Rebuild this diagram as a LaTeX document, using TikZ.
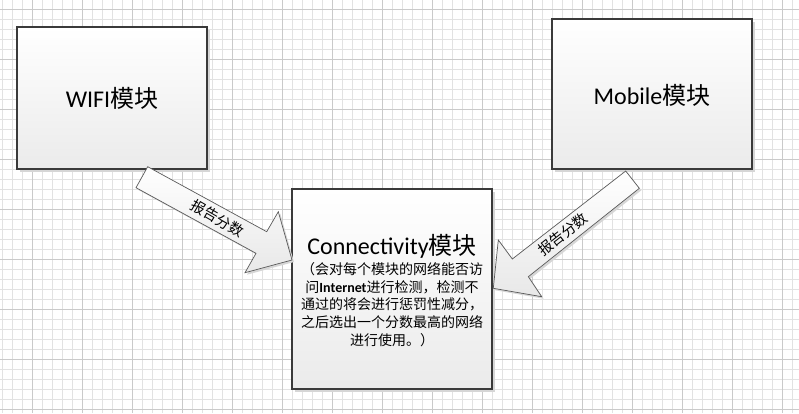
\documentclass[tikz,border=0pt]{standalone}
\usepackage{fontspec}
\setmainfont{Carlito}
\newfontfamily\cjk{Noto Sans CJK SC}
\usetikzlibrary{shadows}
\definecolor{gridminor}{HTML}{E2E2E2}
\definecolor{gridmajor}{HTML}{CACACA}
\definecolor{boxline}{HTML}{3A3A3A}
\definecolor{arrowline}{HTML}{5A5A5A}
\definecolor{shadowc}{HTML}{D6D6D6}
\begin{document}
\begin{tikzpicture}[x=1pt,y=-1pt,
  module/.style={draw=boxline, line width=1.1pt, top color=white, bottom color=black!8,
    drop shadow={shadow xshift=3pt, shadow yshift=-3pt, fill=shadowc, opacity=1},
    inner sep=0pt},
  blockarrow/.style={draw=arrowline, line width=0.7pt, top color=white, bottom color=black!9},
  arrowshadow/.style={fill=shadowc},
  big/.style={font=\fontsize{24}{28}\selectfont, inner sep=0pt},
  lbl/.style={font=\fontsize{14.5}{16}\selectfont\cjk, inner sep=0pt},
  body/.style={font=\fontsize{14}{17.7}\selectfont, align=center, inner sep=0pt}]
\useasboundingbox (0,0) rectangle (799,413);
\fill[white] (0,0) rectangle (799,413);
% grid
\foreach \x in {2.7,12.7,...,799} \draw[gridminor, line width=0.8pt] (\x,0) -- (\x,413);
\foreach \y in {9.3,19.3,...,413} \draw[gridminor, line width=0.8pt] (0,\y) -- (799,\y);
\foreach \x in {32.7,82.7,...,799} \draw[gridmajor, line width=0.8pt] (\x,0) -- (\x,413);
\foreach \y in {9.3,59.3,...,413} \draw[gridmajor, line width=0.8pt] (0,\y) -- (799,\y);
% boxes
\node[module, minimum width=190pt, minimum height=142pt] (wifi) at (112,98) {};
\node[module, minimum width=200pt, minimum height=150pt] (mobile) at (652,94) {};
\node[module, minimum width=200pt, minimum height=200pt] (conn) at (392,289) {};
\node[big] (wifit) at (112,98) {WIFI{\cjk 模块}};
\node[big] (mobilet) at (652,95) {Mobile{\cjk 模块}};
\node[big] (connt) at (392,246) {Connectivity{\cjk 模块}};
\node[body] (connb) at (392,304.5) {{\cjk （会对每个模块的网络能否访}\\
{\cjk 问}\textbf{Internet}{\cjk 进行检测，检测不}\\
{\cjk 通过的将会进行惩罚性减分，}\\
{\cjk 之后选出一个分数最高的网络}\\
{\cjk 进行使用。）}};
% left block arrow
\coordinate (a1) at (147.7,166.7);
\coordinate (a2) at (266.7,231.7);
\coordinate (a3) at (278.3,211.7);
\coordinate (a4) at (292,260);
\coordinate (a5) at (245,272.7);
\coordinate (a6) at (256,253.3);
\coordinate (a7) at (136,187.7);
\fill[arrowshadow] ([shift={(2,2)}]a1) -- ([shift={(2,2)}]a2) -- ([shift={(2,2)}]a3) -- ([shift={(2,2)}]a4) -- ([shift={(2,2)}]a5) -- ([shift={(2,2)}]a6) -- ([shift={(2,2)}]a7) -- cycle;
\draw[blockarrow] (a1) -- (a2) -- (a3) -- (a4) -- (a5) -- (a6) -- (a7) -- cycle;
\node[lbl, rotate=-30] (la) at (217.3,218.3) {报告分数};
% right block arrow
\coordinate (b1) at (625.7,171);
\coordinate (b2) at (512.3,259);
\coordinate (b3) at (498.3,240);
\coordinate (b4) at (493.3,288.3);
\coordinate (b5) at (541.7,296.7);
\coordinate (b6) at (528.3,276.7);
\coordinate (b7) at (639.3,188.3);
\fill[arrowshadow] ([shift={(2,2)}]b1) -- ([shift={(2,2)}]b2) -- ([shift={(2,2)}]b3) -- ([shift={(2,2)}]b4) -- ([shift={(2,2)}]b5) -- ([shift={(2,2)}]b6) -- ([shift={(2,2)}]b7) -- cycle;
\draw[blockarrow] (b1) -- (b2) -- (b3) -- (b4) -- (b5) -- (b6) -- (b7) -- cycle;
\node[lbl, rotate=38] (lb) at (562.7,234.5) {报告分数};
\end{tikzpicture}
\end{document}
